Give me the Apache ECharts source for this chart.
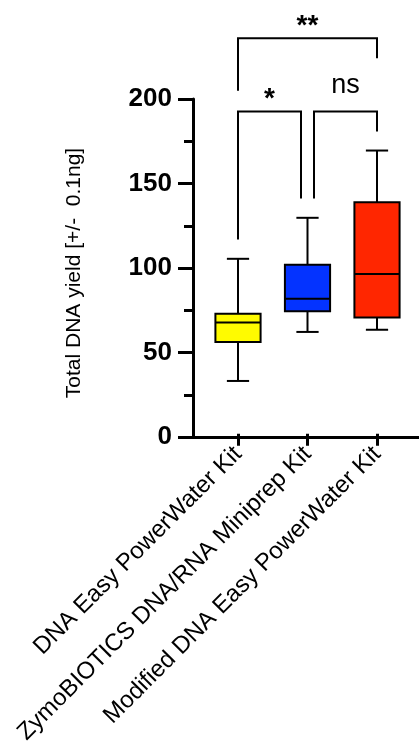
<!DOCTYPE html>
<html><head><meta charset="utf-8">
<script src="https://cdn.jsdelivr.net/npm/echarts@6/dist/echarts.min.js"></script>
<style>html,body{margin:0;padding:0;background:#fff}#c{width:419px;height:747px}</style>
</head><body><div id="c"></div>
<script>
// ---- data ----
const categories = ['DNA Easy PowerWater Kit', 'ZymoBIOTICS DNA/RNA Miniprep Kit', 'Modified DNA Easy PowerWater Kit'];
const mins    = [31.5, 60.8, 62.1];
const q1s     = [54.8, 73.2, 69.4];
const medians = [66.5, 80.7, 95.4];
const q3s     = [71.6, 101.0, 138.3];
const maxs    = [104.5, 129.0, 169.2];
const boxColors = ['#FFFB00', '#0433FF', '#FF2600'];
const yMin = 0, yMax = 200, yInterval = 50;
const yTitle = 'Total DNA yield [+/-  0.1ng]';
// significance brackets
const bracketFrom   = [0, 1, 0];
const bracketTo     = [1, 2, 2];
const bracketLevel  = [192.5, 192.5, 236.3];
const bracketLeftFoot  = [116.0, 140.6, 205.0];
const bracketRightFoot = [140.6, 180.6, 224.3];
const bracketLabels = ['*', 'ns', '**'];

const FONT = "'Liberation Sans', Arial, Helvetica, sans-serif";

const boxData = categories.map((c, i) => [i, mins[i], q1s[i], medians[i], q3s[i], maxs[i]]);
const bracketData = bracketFrom.map((f, k) => [f, bracketTo[k], bracketLevel[k], bracketLeftFoot[k], bracketRightFoot[k], k]);

const chart = echarts.init(document.getElementById('c'), null, {renderer: 'canvas'});

const gridTop = 99, gridBottom = 310;

chart.setOption({
  backgroundColor: '#fff',
  animation: false,
  grid: [
    {left: 193, right: 0, top: gridTop, bottom: gridBottom},
    {left: 203.25, right: 7.25, top: gridTop, bottom: gridBottom}
  ],
  xAxis: [
    {gridIndex: 0, type: 'value', min: 0, max: 1,
     axisLine: {show: true, lineStyle: {color: '#000', width: 3}},
     axisTick: {show: false}, axisLabel: {show: false}, splitLine: {show: false}},
    {gridIndex: 1, type: 'category', data: categories, boundaryGap: true,
     axisLine: {show: false},
     axisTick: {show: true, alignWithLabel: true, length: 12, lineStyle: {color: '#000', width: 3}},
     axisLabel: {rotate: 45, margin: 17, color: '#000', fontSize: 24, fontFamily: FONT, interval: 0},
     splitLine: {show: false}}
  ],
  yAxis: [
    {gridIndex: 0, type: 'value', min: yMin, max: yMax, interval: yInterval,
     name: yTitle, nameLocation: 'middle', nameGap: 108,
     nameTextStyle: {color: '#000', fontSize: 21, fontFamily: FONT, padding: [0, 10, 0, 0]},
     axisLine: {show: true, lineStyle: {color: '#000', width: 3}},
     axisTick: {show: true, length: 15, lineStyle: {color: '#000', width: 3}},
     minorTick: {show: true, splitNumber: 2, length: 9, lineStyle: {color: '#000', width: 3}},
     axisLabel: {color: '#000', fontSize: 26, fontWeight: 'bold', fontFamily: FONT, margin: 21},
     splitLine: {show: false}},
    {gridIndex: 1, type: 'value', min: yMin, max: yMax, interval: yInterval, show: false}
  ],
  series: [
    {
      type: 'custom', xAxisIndex: 1, yAxisIndex: 1, clip: false,
      data: boxData,
      encode: {x: 0, y: [1, 2, 3, 4, 5]},
      renderItem: function (params, api) {
        const i = api.value(0);
        const band = api.size([1, 0])[0];
        const bw = band * 0.65, cw = band * 0.32;
        const pMin = api.coord([i, api.value(1)]);
        const pQ1 = api.coord([i, api.value(2)]);
        const pMed = api.coord([i, api.value(3)]);
        const pQ3 = api.coord([i, api.value(4)]);
        const pMax = api.coord([i, api.value(5)]);
        const cx = pMed[0];
        const ls = {stroke: '#000', lineWidth: 2};
        return {type: 'group', children: [
          {type: 'line', shape: {x1: cx, y1: pMax[1], x2: cx, y2: pQ3[1]}, style: ls},
          {type: 'line', shape: {x1: cx, y1: pQ1[1], x2: cx, y2: pMin[1]}, style: ls},
          {type: 'line', shape: {x1: cx - cw / 2, y1: pMax[1], x2: cx + cw / 2, y2: pMax[1]}, style: ls},
          {type: 'line', shape: {x1: cx - cw / 2, y1: pMin[1], x2: cx + cw / 2, y2: pMin[1]}, style: ls},
          {type: 'rect', shape: {x: cx - bw / 2, y: pQ3[1], width: bw, height: pQ1[1] - pQ3[1]},
           style: {fill: boxColors[i], stroke: '#000', lineWidth: 2}},
          {type: 'line', shape: {x1: cx - bw / 2, y1: pMed[1], x2: cx + bw / 2, y2: pMed[1]}, style: ls}
        ]};
      }
    },
    {
      type: 'custom', xAxisIndex: 1, yAxisIndex: 1, clip: false,
      data: bracketData,
      encode: {x: [0, 1], y: [2, 3, 4]},
      renderItem: function (params, api) {
        const f = api.value(0), t = api.value(1), lvl = api.value(2);
        const k = api.value(5);
        const gap = 6.5;
        let li = 0, ri = 0;
        for (let j = 0; j < bracketFrom.length; j++) {
          if (j === k || bracketLevel[j] !== lvl) continue;
          if (bracketTo[j] === f) li = gap;
          if (bracketFrom[j] === t) ri = gap;
        }
        const x1 = api.coord([f, lvl])[0] + li;
        const x2 = api.coord([t, lvl])[0] - ri;
        const yL = api.coord([f, lvl])[1];
        const yA = api.coord([f, api.value(3)])[1];
        const yB = api.coord([t, api.value(4)])[1];
        const lab = bracketLabels[k];
        const isStar = lab.indexOf('*') >= 0;
        return {type: 'group', children: [
          {type: 'polyline', shape: {points: [[x1, yA], [x1, yL], [x2, yL], [x2, yB]]},
           style: {stroke: '#000', lineWidth: 2, fill: null}},
          {type: 'text', x: (x1 + x2) / 2, y: yL - (isStar ? 12 : 26),
           style: {text: lab, fill: '#000', align: 'center', verticalAlign: 'middle',
                   font: (isStar ? 'bold 28px ' : '27px ') + FONT}}
        ]};
      }
    }
  ]
});
</script>
</body></html>
